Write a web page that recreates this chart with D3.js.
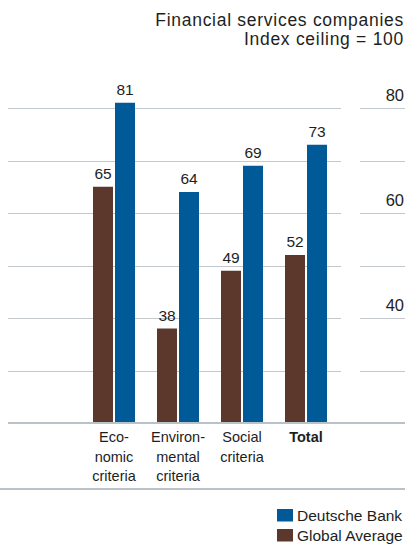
<!DOCTYPE html>
<html>
<head>
<meta charset="utf-8">
<script src="https://cdn.jsdelivr.net/npm/d3@7"></script>
<style>
  html, body { margin: 0; padding: 0; background: #fff; }
  svg { display: block; font-family: "Liberation Sans", Arial, Helvetica, sans-serif; }
</style>
</head>
<body>
<svg id="chart" width="408" height="544"></svg>
<script>
// Sustainability rating scores, financial services sector
const categories = ["Economic criteria", "Environmental criteria", "Social criteria", "Total"];
const categoryLines = [["Eco-", "nomic", "criteria"], ["Environ-", "mental", "criteria"], ["Social", "criteria"], ["Total"]];
const seriesNames = ["Global Average", "Deutsche Bank"];
const globalAverage = [65, 38, 49, 52];
const deutscheBank = [81, 64, 69, 73];
const gridValues = [20, 30, 40, 50, 60, 70, 80];
const tickLabels = [40, 60, 80];
const titleLines = ["Financial services companies", "Index ceiling = 100"];

const colors = { "Global Average": "#5c382c", "Deutsche Bank": "#005a98" };
const gridColor = "#c3c8cc";
const textColor = "#1e1e1e";

const svg = d3.select("#chart");

const y = d3.scaleLinear().domain([20, 80]).range([423, 108]);
const x0 = d3.scaleBand().domain(categories).range([82, 338]).paddingInner(0.34375).paddingOuter(0.171875);
const x1 = d3.scaleBand().domain(seriesNames).range([0, x0.bandwidth()]).paddingInner(1 / 11);

// Title block, right aligned
svg.append("g").selectAll("text").data(titleLines).join("text")
  .attr("x", 404).attr("y", (d, i) => 26 + i * 19)
  .attr("text-anchor", "end")
  .attr("font-size", 17.5).attr("letter-spacing", 0.72)
  .attr("fill", textColor)
  .text(d => d);

// Horizontal gridlines: plot section and right-hand label section
const grid = svg.append("g");
grid.selectAll("line.plot").data(gridValues.filter(v => v > 20)).join("line")
  .attr("class", "plot")
  .attr("x1", 8).attr("x2", 341)
  .attr("y1", d => Math.round(y(d)) + 0.5).attr("y2", d => Math.round(y(d)) + 0.5)
  .attr("stroke", gridColor).attr("stroke-width", 1);
grid.selectAll("line.side").data(gridValues.filter(v => v > 20)).join("line")
  .attr("class", "side")
  .attr("x1", 360).attr("x2", 405)
  .attr("y1", d => Math.round(y(d)) + 0.5).attr("y2", d => Math.round(y(d)) + 0.5)
  .attr("stroke", gridColor).attr("stroke-width", 1);

// Right-side value axis labels
const axis = d3.axisRight(y).tickValues(tickLabels).tickSize(0).tickPadding(0);
const axisG = svg.append("g").attr("transform", "translate(404,0)").call(axis);
axisG.select(".domain").remove();
axisG.selectAll("text")
  .attr("text-anchor", "end")
  .attr("dy", "-0.45em")
  .attr("font-size", 16.5)
  .attr("font-family", "Liberation Sans, Arial, sans-serif")
  .attr("fill", textColor);

// Bars
const rows = categories.map((c, i) => ({
  category: c,
  values: [
    { series: "Global Average", value: globalAverage[i] },
    { series: "Deutsche Bank", value: deutscheBank[i] }
  ]
}));

const groups = svg.append("g").selectAll("g").data(rows).join("g")
  .attr("transform", d => `translate(${x0(d.category)},0)`);

groups.selectAll("rect").data(d => d.values).join("rect")
  .attr("x", d => x1(d.series))
  .attr("y", d => y(d.value))
  .attr("width", x1.bandwidth())
  .attr("height", d => y(20) - y(d.value))
  .attr("fill", d => colors[d.series]);

groups.selectAll("text.value").data(d => d.values).join("text")
  .attr("class", "value")
  .attr("x", d => x1(d.series) + x1.bandwidth() / 2)
  .attr("y", d => y(d.value) - 8)
  .attr("text-anchor", "middle")
  .attr("font-size", 15.5)
  .attr("fill", textColor)
  .text(d => d.value);

// Baseline and lower rule
svg.append("line").attr("x1", 8).attr("x2", 405).attr("y1", 423).attr("y2", 423)
  .attr("stroke", "#b9c2c7").attr("stroke-width", 2);
svg.append("line").attr("x1", 0).attr("x2", 405).attr("y1", 489).attr("y2", 489)
  .attr("stroke", "#b9c2c7").attr("stroke-width", 2);

// Category labels
const catG = svg.append("g").selectAll("text").data(categories).join("text")
  .attr("x", d => x0(d) + x0.bandwidth() / 2)
  .attr("text-anchor", "middle")
  .attr("font-size", 14.5)
  .attr("font-weight", d => d === "Total" ? "bold" : "normal")
  .attr("fill", textColor);
catG.selectAll("tspan").data((d, i) => categoryLines[i]).join("tspan")
  .attr("x", function () { return d3.select(this.parentNode).attr("x"); })
  .attr("y", (d, i) => 442 + i * 19.5)
  .text(d => d);

// Legend
const legendItems = ["Deutsche Bank", "Global Average"];
const legend = svg.append("g").selectAll("g").data(legendItems).join("g")
  .attr("transform", (d, i) => `translate(277,${509 + i * 20})`);
legend.append("rect").attr("width", 16).attr("height", 12.5).attr("fill", d => colors[d]);
legend.append("text").attr("x", 20).attr("y", 11.8)
  .attr("font-size", 15.5).attr("fill", textColor).text(d => d);
</script>
</body>
</html>
